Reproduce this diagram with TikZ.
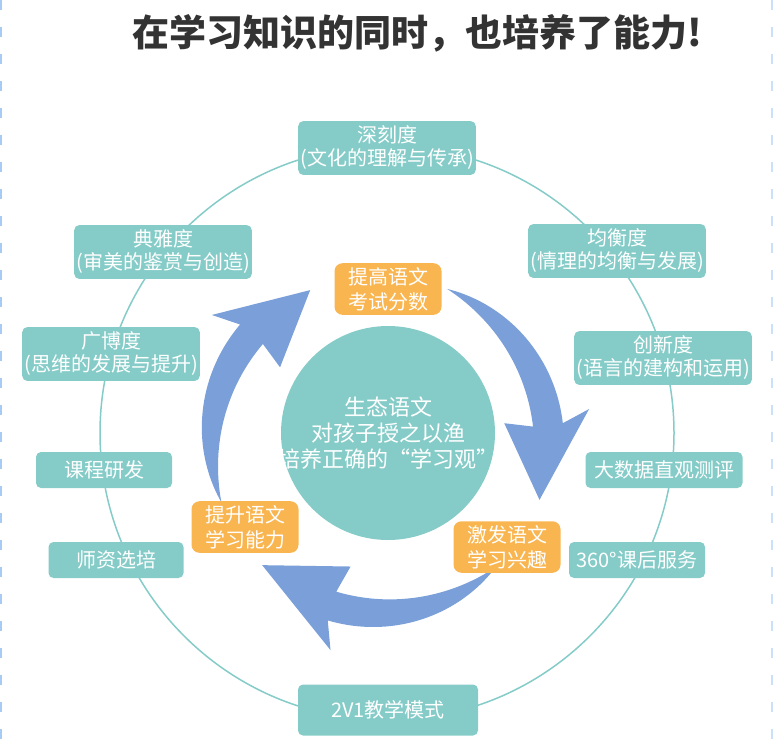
\documentclass[tikz,border=0pt]{standalone}
\usepackage{fontspec}
\setmainfont{Noto Sans CJK SC}
\definecolor{ringteal}{HTML}{85CCC8}
\definecolor{stageorange}{HTML}{F9B550}
\definecolor{cycleblue}{HTML}{7A9FD9}
\definecolor{titlegray}{HTML}{333333}
\definecolor{edgeblue}{HTML}{A8CBF5}
% tapered arc arrow: tail angle, head base angle, tip angle
\newcommand\cyclearrow[3]{
  \fill[cycleblue]
    plot[domain=#1:#2, samples=40] ({380+(169+15*(1-((\x-(#2))/((#1)-(#2)))^2))*cos(\x)}, {444-(169+15*(1-((\x-(#2))/((#1)-(#2)))^2))*sin(\x)})
    -- ({380+212*cos(#2+3)}, {444-212*sin(#2+3)})
    -- ({380+169*cos(#3)}, {444-169*sin(#3)})
    -- ({380+126*cos(#2+3)}, {444-126*sin(#2+3)})
    -- plot[domain=#2:#1, samples=40] ({380+(169-15*(1-((\x-(#2))/((#1)-(#2)))^2))*cos(\x)}, {444-(169-15*(1-((\x-(#2))/((#1)-(#2)))^2))*sin(\x)})
    -- cycle;
}

\begin{document}
\begin{tikzpicture}[x=1pt, y=-1pt,
    titletext/.style={font=\fontsize{37}{40}\selectfont\bfseries, text=titlegray},
    facet/.style={fill=ringteal, text=white, rounded corners=5pt, align=center,
      inner xsep=2pt, inner ysep=5pt, minimum height=36pt, font=\fontsize{20}{23}\selectfont},
    stage/.style={fill=stageorange, text=white, rounded corners=8pt, align=center,
      minimum width=107pt, minimum height=51pt, inner ysep=4pt, font=\fontsize{20}{25}\selectfont},
    hub/.style={circle, fill=ringteal, minimum size=214pt},
    hubtext/.style={text=white, align=center, font=\fontsize{22}{26}\selectfont}]
  \useasboundingbox (0,0) rectangle (773,745);
  \draw[edgeblue, line width=2pt, dash pattern=on 10pt off 17pt] (1,0) -- (1,745);
  \draw[edgeblue!60, line width=2pt, dash pattern=on 10pt off 17pt] (772,0) -- (772,745);

  \node[titletext] (title) at (417,33) {在学习知识的同时，也培养了能力!};

  \draw[ringteal, line width=1.5pt] (387,433) circle[radius=287];

  \cyclearrow{66.6}{6.5}{-19.3}
  \cyclearrow{-46.8}{-106.5}{-134.2}
  \cyclearrow{200.2}{139.5}{114.4}

  \node[hub] (hub) at (388,433) {};
  \node[hubtext] (hubtext) at (hub) {生态语文\\对孩子授之以渔\\培养正确的“学习观”};

  \node[stage] (score) at (388,289) {提高语文\\考试分数};
  \node[stage] (interest) at (507,547) {激发语文\\学习兴趣};
  \node[stage] (ability) at (245,527) {提升语文\\学习能力};

  \node[facet] (depth) at (387,148) {深刻度\\(文化的理解与传承)};
  \node[facet] (elegance) at (163,252) {典雅度\\(审美的鉴赏与创造)};
  \node[facet] (breadth) at (111,354) {广博度\\(思维的发展与提升)};
  \node[facet] (balance) at (617,251) {均衡度\\(情理的均衡与发展)};
  \node[facet] (novelty) at (663,358) {创新度\\(语言的建构和运用)};
  \node[facet, minimum width=136pt] (course) at (104,470) {课程研发};
  \node[facet, minimum width=135pt] (teacher) at (116,560) {师资选培};
  \node[facet, minimum width=157pt] (data) at (664,470) {大数据直观测评};
  \node[facet, minimum width=136pt] (service) at (637,560) {360°课后服务};
  \node[facet, minimum width=180pt, minimum height=51pt] (mode) at (388,710) {2V1教学模式};
\end{tikzpicture}
\end{document}
